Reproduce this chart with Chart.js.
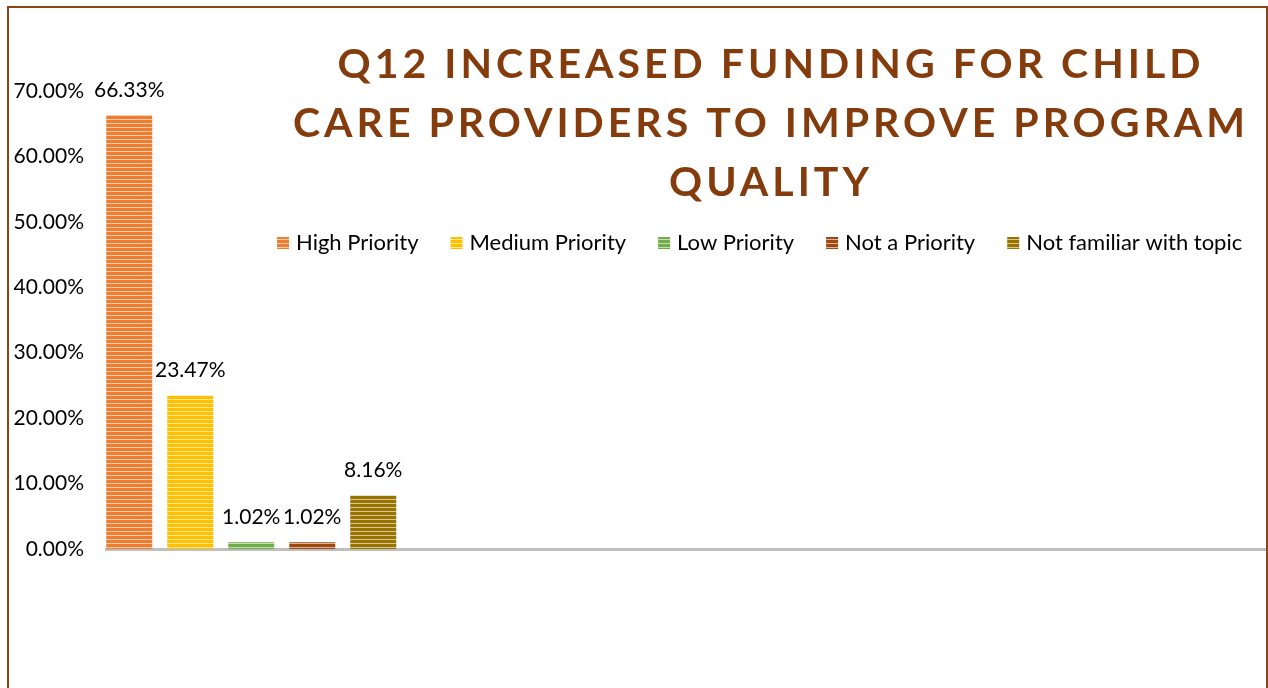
<!DOCTYPE html>
<html>
<head>
<meta charset="utf-8">
<script src="https://cdn.jsdelivr.net/npm/chart.js@4.4.1/dist/chart.umd.min.js"></script>
<style>
  html, body { margin: 0; padding: 0; background: #fff; }
  #wrap { width: 1268px; height: 688px; position: relative; }
</style>
</head>
<body>
<div id="wrap"><canvas id="chart"></canvas></div>
<script>
// Chart values
const categories = ["", "", "", ""];
const seriesLabels = ["High Priority", "Medium Priority", "Low Priority", "Not a Priority", "Not familiar with topic"];
const seriesValues = [66.33, 23.47, 1.02, 1.02, 8.16];
const seriesColors = ["#ED7D31", "#FFC000", "#70AD47", "#9E480E", "#997300"];
const yTicks = [0, 10, 20, 30, 40, 50, 60, 70];
const titleLines = ["Q12 INCREASED FUNDING FOR CHILD", "CARE PROVIDERS TO IMPROVE PROGRAM", "QUALITY"];

const pct = (v) => v.toFixed(2) + "%";
const textFont = "21px Lato";

// horizontal stripe fill like the Excel pattern
function stripes(color) {
  const c = document.createElement("canvas");
  c.width = 4;
  c.height = 4;
  const g = c.getContext("2d");
  g.fillStyle = color;
  g.fillRect(0, 0, 4, 4);
  g.fillStyle = "rgba(255,255,255,0.6)";
  g.fillRect(0, 3, 4, 1);
  return g.createPattern(c, "repeat");
}

const fills = seriesColors.map(stripes);

const frameTitleLegend = {
  id: "frameTitleLegend",
  beforeDraw(chart) {
    const { ctx, width, height } = chart;
    ctx.save();
    ctx.fillStyle = "#ffffff";
    ctx.fillRect(0, 0, width, height);
    ctx.restore();
  },
  afterDraw(chart) {
    const { ctx } = chart;
    ctx.save();

    // outer frame, bottom edge is off the picture
    ctx.strokeStyle = "#8B4513";
    ctx.lineWidth = 2;
    ctx.strokeRect(8, 7, 1259, 720);

    // title
    ctx.font = "bold 41px Lato";
    ctx.letterSpacing = "4px";
    ctx.fillStyle = "#843C0C";
    ctx.textAlign = "center";
    ctx.textBaseline = "alphabetic";
    titleLines.forEach((line, i) => {
      ctx.fillText(line, 771, 78 + i * 59);
    });

    // legend
    ctx.letterSpacing = "0px";
    ctx.font = "22px Lato";
    ctx.textAlign = "left";
    ctx.textBaseline = "middle";
    let x = 277;
    const y = 243;
    chart.data.datasets.forEach((ds) => {
      ctx.fillStyle = ds.backgroundColor;
      ctx.fillRect(x, y - 6, 12, 12);
      ctx.fillStyle = "#000000";
      ctx.fillText(ds.label, x + 19, y);
      x += 19 + ctx.measureText(ds.label).width + 32;
    });

    ctx.restore();
  },
  afterDatasetsDraw(chart) {
    const { ctx } = chart;
    ctx.save();
    ctx.font = textFont;
    ctx.fillStyle = "#000000";
    ctx.textAlign = "center";
    ctx.textBaseline = "middle";
    chart.data.datasets.forEach((ds, i) => {
      const bar = chart.getDatasetMeta(i).data[0];
      ctx.fillText(pct(ds.data[0]), bar.x, bar.y - 25);
    });
    ctx.restore();
  },
};

new Chart(document.getElementById("chart"), {
  type: "bar",
  data: {
    labels: categories,
    datasets: seriesLabels.map((label, i) => ({
      label: label,
      data: [seriesValues[i]],
      backgroundColor: fills[i],
      categoryPercentage: 1.05,
      barPercentage: 0.754,
    })),
  },
  options: {
    responsive: true,
    maintainAspectRatio: false,
    animation: false,
    layout: { padding: { top: 91, bottom: 139, left: 0, right: 0 } },
    plugins: {
      legend: { display: false },
      title: { display: false },
      tooltip: { enabled: false },
    },
    scales: {
      x: {
        grid: { display: false },
        ticks: { display: false },
        border: { display: true, color: "#BFBFBF", width: 3 },
        afterFit(scale) {
          scale.height = 0;
        },
      },
      y: {
        min: 0,
        max: 70,
        grid: { display: false, drawTicks: false },
        border: { display: false },
        afterBuildTicks(scale) {
          scale.ticks = yTicks.map((v) => ({ value: v }));
        },
        ticks: {
          padding: 22,
          color: "#000000",
          font: { family: "Lato", size: 21 },
          callback: (v) => pct(v),
        },
        afterFit(scale) {
          scale.width = 106;
        },
      },
    },
  },
  plugins: [frameTitleLegend],
});
</script>
</body>
</html>
